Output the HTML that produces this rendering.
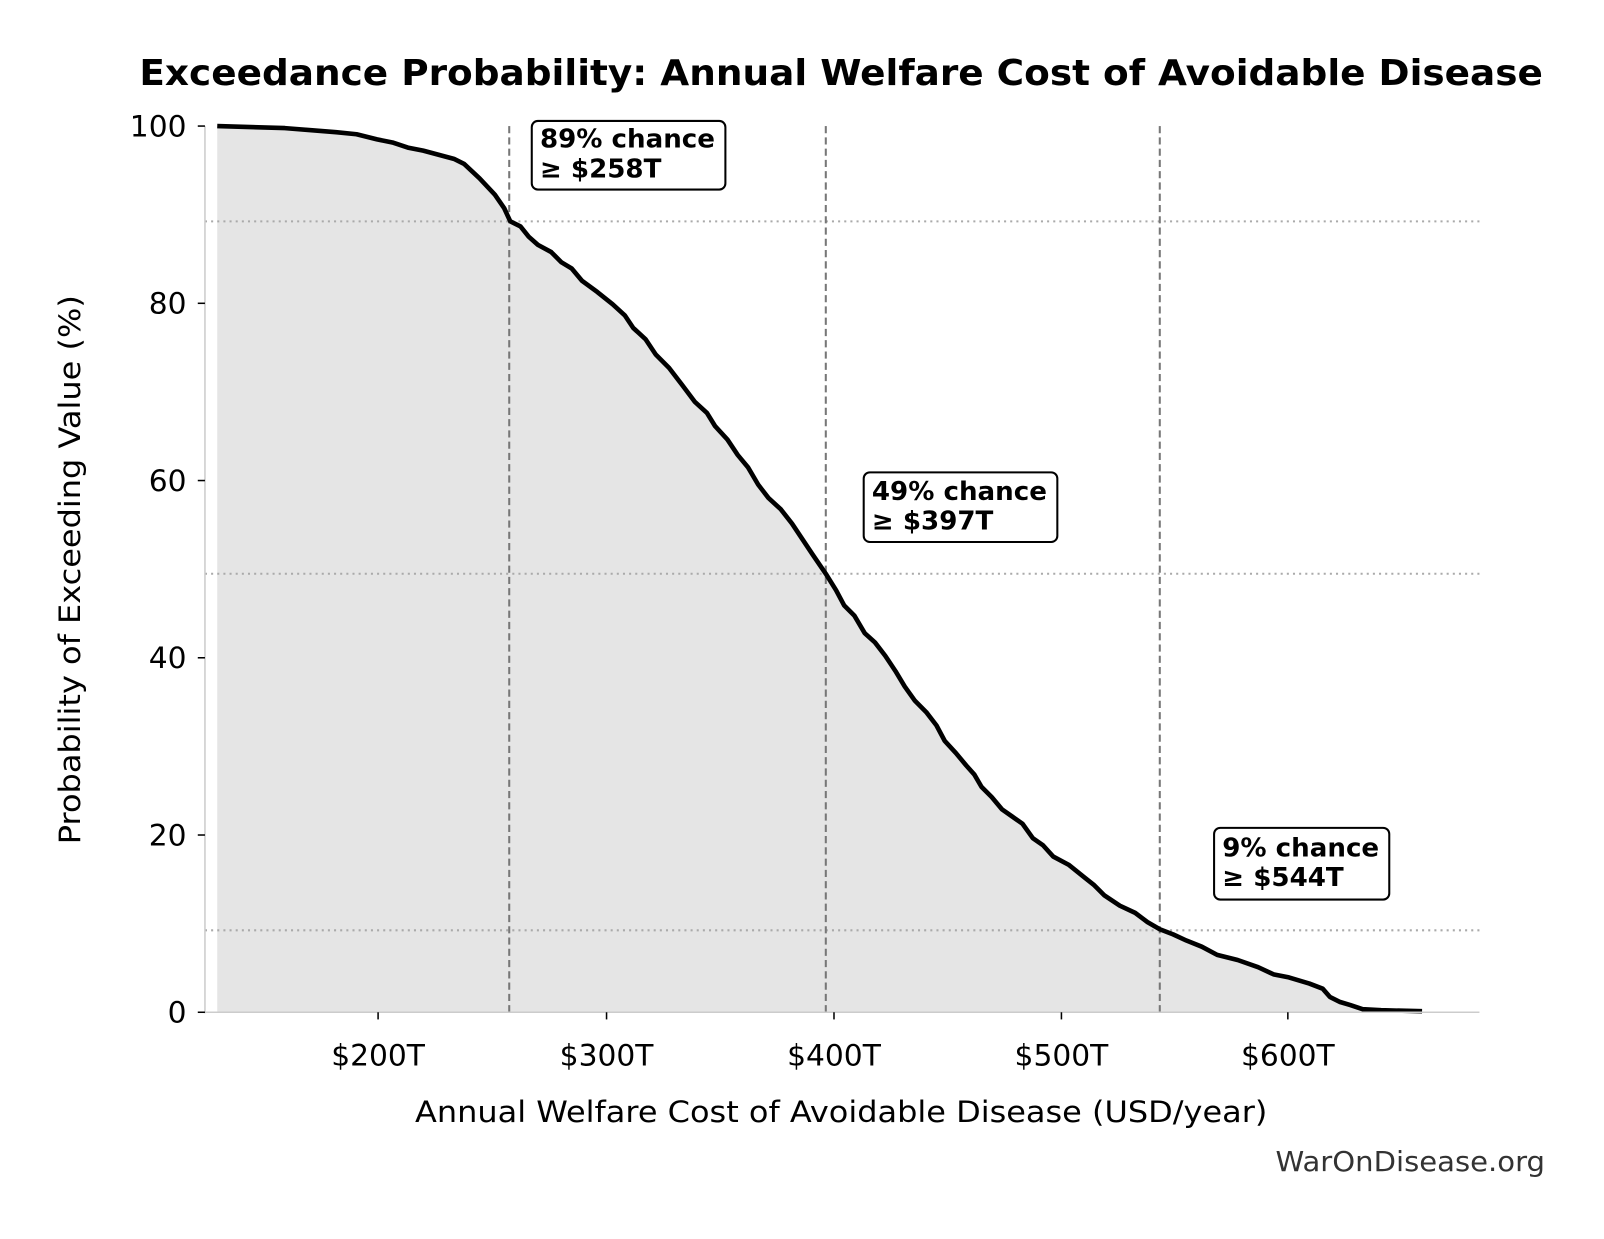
<!DOCTYPE html>
<html><head><meta charset="utf-8"><style>
body{margin:0;background:#fff;}
svg text{font-family:"DejaVu Sans","Liberation Sans",sans-serif;}
</style></head><body>
<svg width="1604" height="1234" viewBox="0 0 1604 1234" xmlns="http://www.w3.org/2000/svg">
<rect width="1604" height="1234" fill="#fff"/>
<g transform="translate(-2,-2) scale(1.0245)">
<text x="823" y="85" font-size="35" font-weight="bold" text-anchor="middle" textLength="1370" lengthAdjust="spacingAndGlyphs">Exceedance Probability: Annual Welfare Cost of Avoidable Disease</text>
<path d="M214,990 L214,125 L280,127 L330,131 L350,133 L370,138 L385,141 L400,146 L415,149 L430,153 L445,157 L455,162 L470,176 L485,192 L494,205 L500,218 L510,223 L518,233 L527,241 L540,248 L550,258 L560,264 L570,276 L585,287 L600,299 L612,310 L620,322 L632,333 L642,348 L655,361 L668,378 L680,394 L692,405 L700,418 L712,431 L722,446 L732,458 L742,475 L752,488 L764,499 L775,513 L785,528 L795,543 L808,562 L818,578 L826,593 L836,603 L846,620 L856,629 L866,642 L876,657 L885,672 L895,686 L906,697 L916,710 L924,725 L935,737 L945,749 L953,758 L960,770 L970,780 L980,792 L990,799 L1000,806 L1010,820 L1020,827 L1030,838 L1045,846 L1060,858 L1070,866 L1080,876 L1095,886 L1110,893 L1122,902 L1134,909 L1147,914 L1160,920 L1175,926 L1190,934 L1210,939 L1230,946 L1245,953 L1260,956 L1280,962 L1293,967 L1300,975 L1310,980 L1320,983 L1332,987 L1350,988 L1390,989 L1390,990 Z" fill="#e5e5e5"/>
<g stroke="#aaa" stroke-width="2" stroke-dasharray="2,4">
<line x1="202" y1="218" x2="1446" y2="218"/><line x1="202" y1="562" x2="1446" y2="562"/><line x1="202" y1="910" x2="1446" y2="910"/>
</g>
<g stroke="#777" stroke-width="2" stroke-dasharray="7,4">
<line x1="499" y1="125" x2="499" y2="990"/><line x1="808" y1="125" x2="808" y2="990"/><line x1="1134" y1="125" x2="1134" y2="990"/>
</g>
<path d="M214,125 L280,127 L330,131 L350,133 L370,138 L385,141 L400,146 L415,149 L430,153 L445,157 L455,162 L470,176 L485,192 L494,205 L500,218 L510,223 L518,233 L527,241 L540,248 L550,258 L560,264 L570,276 L585,287 L600,299 L612,310 L620,322 L632,333 L642,348 L655,361 L668,378 L680,394 L692,405 L700,418 L712,431 L722,446 L732,458 L742,475 L752,488 L764,499 L775,513 L785,528 L795,543 L808,562 L818,578 L826,593 L836,603 L846,620 L856,629 L866,642 L876,657 L885,672 L895,686 L906,697 L916,710 L924,725 L935,737 L945,749 L953,758 L960,770 L970,780 L980,792 L990,799 L1000,806 L1010,820 L1020,827 L1030,838 L1045,846 L1060,858 L1070,866 L1080,876 L1095,886 L1110,893 L1122,902 L1134,909 L1147,914 L1160,920 L1175,926 L1190,934 L1210,939 L1230,946 L1245,953 L1260,956 L1280,962 L1293,967 L1300,975 L1310,980 L1320,983 L1332,987 L1350,988 L1390,989" fill="none" stroke="#000" stroke-width="4.5" stroke-linejoin="round"/>
<line x1="202" y1="125" x2="202" y2="991" stroke="#ccc" stroke-width="1.5"/>
<line x1="202" y1="990" x2="1446" y2="990" stroke="#ccc" stroke-width="1.5"/>
<g stroke="#000" stroke-width="1.5">
<line x1="195" y1="125" x2="202" y2="125"/><line x1="195" y1="298" x2="202" y2="298"/><line x1="195" y1="471" x2="202" y2="471"/><line x1="195" y1="644" x2="202" y2="644"/><line x1="195" y1="817" x2="202" y2="817"/><line x1="195" y1="990" x2="202" y2="990"/>
<line x1="371" y1="990" x2="371" y2="997"/><line x1="594" y1="990" x2="594" y2="997"/><line x1="816" y1="990" x2="816" y2="997"/><line x1="1038" y1="990" x2="1038" y2="997"/><line x1="1259" y1="990" x2="1259" y2="997"/>
</g>
<g font-size="29" text-anchor="end">
<text x="184" y="135">100</text><text x="184" y="308">80</text><text x="184" y="481">60</text><text x="184" y="654">40</text><text x="184" y="827">20</text><text x="184" y="1000">0</text>
</g>
<g font-size="29" text-anchor="middle">
<text x="371" y="1042">$200T</text><text x="594" y="1042">$300T</text><text x="816" y="1042">$400T</text><text x="1038" y="1042">$500T</text><text x="1259" y="1042">$600T</text>
</g>
<text x="823" y="1097" font-size="29" text-anchor="middle" textLength="832" lengthAdjust="spacingAndGlyphs">Annual Welfare Cost of Avoidable Disease (USD/year)</text>
<text transform="translate(80,558) rotate(-90)" font-size="29" text-anchor="middle" textLength="536" lengthAdjust="spacingAndGlyphs">Probability of Exceeding Value (%)</text>
<text x="1510" y="1145" font-size="27" text-anchor="end" fill="#333" textLength="263" lengthAdjust="spacingAndGlyphs">WarOnDisease.org</text>
<g font-size="25.5" font-weight="bold">
<rect x="521" y="120" width="189" height="67" rx="6" fill="#fff" stroke="#000" stroke-width="2"/>
<text x="529" y="146">89% chance</text><text x="529" y="175">≥ $258T</text>
<rect x="845" y="463" width="189" height="68" rx="6" fill="#fff" stroke="#000" stroke-width="2"/>
<text x="853" y="490">49% chance</text><text x="853" y="519">≥ $397T</text>
<rect x="1187" y="810" width="171" height="70" rx="6" fill="#fff" stroke="#000" stroke-width="2"/>
<text x="1195" y="838">9% chance</text><text x="1195" y="867">≥ $544T</text>
</g>
</g>
</svg>
</body></html>
